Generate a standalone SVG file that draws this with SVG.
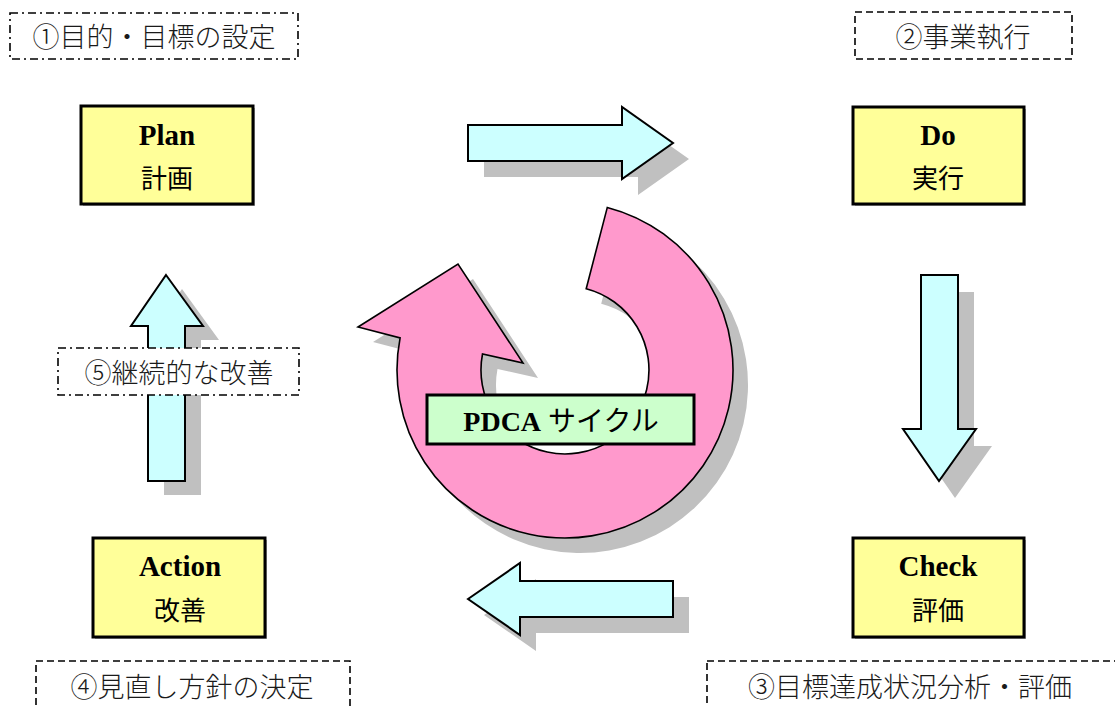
<svg xmlns="http://www.w3.org/2000/svg" width="1115" height="706" viewBox="0 0 1115 706">
<defs>
<style>
.bg{fill:#ffffff}
.node{fill:#FFFF99;stroke:#000;stroke-width:3}
.nshadow{fill:#b0b0b0}
.en{font-family:"Liberation Serif","Noto Sans CJK JP",serif;font-weight:bold;font-size:29px;fill:#000;text-anchor:middle}
.jp{font-family:"Noto Sans CJK JP",sans-serif;font-size:26px;fill:#000;text-anchor:middle}
.lbl{font-family:"Noto Sans CJK JP",sans-serif;font-weight:300;font-size:27px;fill:#1a1a1a;text-anchor:middle}
.dash{fill:#fff;stroke:#000;stroke-width:1.6;stroke-dasharray:7 4}
.dashdot{fill:#fff;stroke:#000;stroke-width:1.6;stroke-dasharray:8 4 2 4}
.arrow{fill:#CCFFFF;stroke:#000;stroke-width:2;stroke-linejoin:miter}
.shadow{fill:#C0C0C0}
.ring{fill:#FF99CC;stroke:#000;stroke-width:1.6}
</style>
</defs>
<rect class="bg" x="0" y="0" width="1115" height="706"/>

<g id="connectors">
  <g id="arrow-plan-do">
    <polygon class="shadow" transform="translate(16,16)" points="468,125 622,125 622,107 673,143 622,179 622,161 468,161"/>
    <polygon class="arrow" points="468,125 622,125 622,107 673,143 622,179 622,161 468,161"/>
  </g>
  <g id="arrow-do-check">
    <polygon class="shadow" transform="translate(16,17)" points="921,275 958,275 958,429 976,429 939,481 903,429 921,429"/>
    <polygon class="arrow" points="921,275 958,275 958,429 976,429 939,481 903,429 921,429"/>
  </g>
  <g id="arrow-check-action">
    <polygon class="shadow" transform="translate(16,16)" points="468,599 520,563 520,581 673,581 673,617 520,617 520,635"/>
    <polygon class="arrow" points="468,599 520,563 520,581 673,581 673,617 520,617 520,635"/>
  </g>
  <g id="arrow-action-plan">
    <polygon class="shadow" transform="translate(16,14)" points="166,275 203,326 185,326 185,481 148,481 148,326 131,326"/>
    <polygon class="arrow" points="166,275 203,326 185,326 185,481 148,481 148,326 131,326"/>
  </g>
</g>

<g id="cycle">
  <path class="shadow" transform="translate(15,15)" d="M 607.3 207.4 A 168 168 0 1 1 400.1 337.9 L 358 327 L 458 264 L 523 363 L 482.5 354 A 84 84 0 1 0 586.2 288.7 Z"/>
  <path class="ring" d="M 607.3 207.4 A 168 168 0 1 1 400.1 337.9 L 358 327 L 458 264 L 523 363 L 482.5 354 A 84 84 0 1 0 586.2 288.7 Z"/>
</g>

<g id="pdca-label">
  <rect x="427" y="395" width="267" height="49" fill="#CCFFCC" stroke="#000" stroke-width="3"/>
  <text x="561" y="431" font-family="Liberation Serif,'Noto Sans CJK JP',serif" font-size="28px" fill="#000" text-anchor="middle"><tspan font-weight="bold">PDCA</tspan> サイクル</text>
</g>

<g id="node-plan">
  <rect class="nshadow" x="83" y="108" width="172" height="98"/>
  <rect class="node" x="81" y="106" width="172" height="98"/>
  <text class="en" x="167" y="145">Plan</text>
  <text class="jp" x="167" y="188">計画</text>
</g>
<g id="node-do">
  <rect class="nshadow" x="855" y="109" width="171" height="97"/>
  <rect class="node" x="853" y="107" width="171" height="97"/>
  <text class="en" x="938" y="145">Do</text>
  <text class="jp" x="938" y="188">実行</text>
</g>
<g id="node-check">
  <rect class="nshadow" x="855" y="540" width="171" height="99"/>
  <rect class="node" x="853" y="538" width="171" height="99"/>
  <text class="en" x="938" y="576">Check</text>
  <text class="jp" x="938" y="620">評価</text>
</g>
<g id="node-action">
  <rect class="nshadow" x="95" y="540" width="172" height="99"/>
  <rect class="node" x="93" y="538" width="172" height="99"/>
  <text class="en" x="180" y="576">Action</text>
  <text class="jp" x="180" y="620">改善</text>
</g>

<g id="label-1">
  <rect class="dashdot" x="10" y="13" width="288" height="46"/>
  <text class="lbl" x="154" y="47">①目的・目標の設定</text>
</g>
<g id="label-2">
  <rect class="dash" x="855" y="12" width="217" height="47"/>
  <text class="lbl" x="963" y="47">②事業執行</text>
</g>
<g id="label-5">
  <rect class="dashdot" x="58" y="348" width="241" height="47"/>
  <text class="lbl" x="179" y="383">⑤継続的な改善</text>
</g>
<g id="label-4">
  <rect class="dash" x="36" y="661" width="314" height="60"/>
  <text class="lbl" x="192" y="697">④見直し方針の決定</text>
</g>
<g id="label-3">
  <rect class="dash" x="707" y="661" width="412" height="60"/>
  <text class="lbl" x="910" y="697">③目標達成状況分析・評価</text>
</g>
</svg>
